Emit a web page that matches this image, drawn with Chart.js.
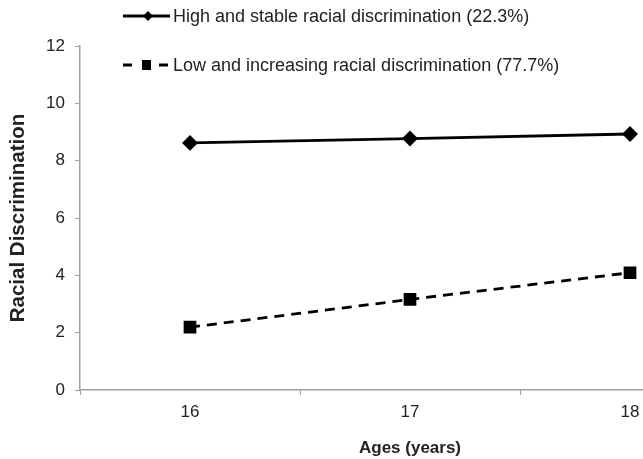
<!doctype html>
<html lang="en">
<head>
  <meta charset="utf-8" />
  <title>Racial Discrimination by Age</title>
  <script src="https://cdn.jsdelivr.net/npm/chart.js"></script>
  <style>
    html, body { margin: 0; padding: 0; background: #fff; overflow: hidden; }
    .wrap { width: 760px; height: 459px; }
  </style>
</head>
<body>
  <div class="wrap"><canvas id="trajectoryChart" width="760" height="459"></canvas></div>
  <script>
    const ages = ['16', '17', '18'];
    const highStable = [8.62, 8.77, 8.93];
    const lowIncreasing = [2.19, 3.16, 4.09];
    const seriesLabels = [
      'High and stable racial discrimination (22.3%)',
      'Low and increasing racial discrimination (77.7%)',
    ];
    const yTicks = [0, 2, 4, 6, 8, 10, 12];

    const axisGrey = '#a0a0a0';
    const textColor = '#222';
    const fontFamily = 'Arial, "Liberation Sans", sans-serif';

    // legend drawn by hand so it can sit in the upper-left like the original
    const insetLegend = {
      id: 'insetLegend',
      afterDraw(chart) {
        const ctx = chart.ctx;
        const rows = [16, 65];
        ctx.save();
        chart.data.datasets.forEach((dataset, index) => {
          const y = rows[index];
          ctx.strokeStyle = '#000';
          ctx.fillStyle = '#000';
          ctx.lineWidth = 2.8;
          if (dataset.borderDash && dataset.borderDash.length) {
            ctx.beginPath();
            ctx.moveTo(123, y); ctx.lineTo(132, y);
            ctx.moveTo(159, y); ctx.lineTo(168, y);
            ctx.stroke();
            ctx.fillRect(142, y - 5, 9, 10);
          } else {
            ctx.beginPath();
            ctx.moveTo(123, y); ctx.lineTo(170, y);
            ctx.stroke();
            ctx.beginPath();
            ctx.moveTo(148, y - 5); ctx.lineTo(153, y); ctx.lineTo(148, y + 5); ctx.lineTo(143, y);
            ctx.closePath();
            ctx.fill();
          }
          ctx.fillStyle = textColor;
          ctx.font = '18px ' + fontFamily;
          ctx.textBaseline = 'middle';
          ctx.textAlign = 'left';
          ctx.fillText(dataset.label, 173, y + 1);
        });
        ctx.restore();
      },
    };

    new Chart(document.getElementById('trajectoryChart'), {
      type: 'line',
      plugins: [insetLegend],
      data: {
        labels: ages,
        datasets: [
          {
            label: seriesLabels[0],
            data: highStable,
            borderColor: '#000',
            backgroundColor: '#000',
            borderWidth: 2.8,
            pointStyle: 'rectRot',
            pointRadius: 6,
            pointHoverRadius: 6,
            tension: 0,
          },
          {
            label: seriesLabels[1],
            data: lowIncreasing,
            borderColor: '#000',
            backgroundColor: '#000',
            borderWidth: 2.8,
            borderDash: [10, 7],
            pointStyle: 'rect',
            pointRadius: 7,
            pointHoverRadius: 7,
            tension: 0,
          },
        ],
      },
      options: {
        responsive: false,
        animation: false,
        devicePixelRatio: 1,
        layout: { padding: { top: 46, right: 20, bottom: 0, left: 0 } },
        plugins: {
          legend: { display: false },
          tooltip: { enabled: false },
        },
        scales: {
          x: {
            offset: true,
            afterFit(scale) { scale.height = 69; },
            border: { color: axisGrey, width: 1.5 },
            grid: { offset: true, drawOnChartArea: false, color: axisGrey, tickLength: 5, lineWidth: 1 },
            ticks: { color: textColor, padding: 7, font: { family: fontFamily, size: 17 } },
            title: {
              display: true,
              text: 'Ages (years)',
              color: textColor,
              padding: { top: 0, bottom: 0 },
              font: { family: fontFamily, size: 17, weight: 'bold' },
            },
          },
          y: {
            min: 0,
            max: 12,
            afterFit(scale) { scale.width = 80; },
            afterBuildTicks(scale) { scale.ticks = yTicks.map((value) => ({ value })); },
            border: { color: axisGrey, width: 1.5 },
            grid: { drawOnChartArea: false, color: axisGrey, tickLength: 5, lineWidth: 1 },
            ticks: { color: textColor, padding: 10, font: { family: fontFamily, size: 17 } },
            title: {
              display: true,
              text: 'Racial Discrimination',
              color: textColor,
              padding: { top: 6, bottom: 0 },
              font: { family: fontFamily, size: 20.5, weight: 'bold' },
            },
          },
        },
      },
    });
  </script>
</body>
</html>
